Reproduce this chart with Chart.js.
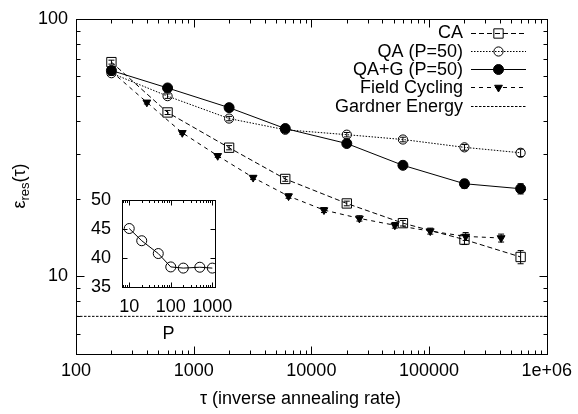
<!DOCTYPE html>
<html>
<head>
<meta charset="utf-8">
<title>Residual energy vs annealing time</title>
<script src="https://cdn.jsdelivr.net/npm/chart.js@4.4.1/dist/chart.umd.min.js"></script>
<style>
  html, body { margin: 0; padding: 0; background: #fff; }
  #wrap { position: relative; width: 578px; height: 414px; }
  #wrap canvas { position: absolute; left: 0; top: 0; }
  #insetChart { pointer-events: none; }
</style>
</head>
<body>
<div id="wrap">
  <canvas id="mainChart" width="578" height="414"></canvas>
  <canvas id="insetChart" width="578" height="414"></canvas>
</div>
<script>
// Main plot data
const tauCA = [200, 600, 2000, 6000, 20000, 60000, 200000, 600000];
const epsCA = [67.9, 43.3, 31.6, 23.9, 19.2, 16.1, 13.9, 11.9];
const errCA = [1.2, 0.8, 0.6, 0.5, 0.4, 0.4, 0.6, 0.7];

const tauQA = [200, 600, 2000, 6000, 20000, 60000, 200000, 600000];
const epsQA = [61.5, 50.1, 41.0, 37.1, 35.5, 34.0, 31.7, 30.2];
const errQA = [1.2, 1.0, 0.8, 0.8, 0.7, 0.7, 0.8, 1.0];

const tauQAG = [200, 600, 2000, 6000, 20000, 60000, 200000, 600000];
const epsQAG = [63.0, 53.9, 45.2, 37.5, 32.8, 27.0, 22.9, 21.9];
const errQAG = [1.0, 0.8, 0.7, 1.2, 0.9, 0.5, 0.9, 1.0];

const tauFC = [200, 400, 800, 1600, 3200, 6400, 12800, 25600, 51200, 102400, 204800, 409600];
const epsFC = [62.5, 47.4, 36.1, 29.4, 24.2, 20.5, 18.1, 16.8, 15.8, 15.0, 14.3, 14.1];
const errFC = [0.8, 0.7, 0.5, 0.4, 0.4, 0.4, 0.4, 0.4, 0.4, 0.4, 0.5, 0.5];

const gardnerEnergy = 7.0;

const xTickValues = [100, 1000, 10000, 100000, 1000000];
const yTickValues = [10, 100];

// Inset data
const pInset = [10, 20, 50, 100, 200, 500, 1000];
const epsInset = [45.1, 43.0, 40.8, 38.5, 38.3, 38.45, 38.3];
const insetXTicks = [10, 100, 1000];
const insetYTicks = [35, 40, 45, 50];

const xTitle = 'τ (inverse annealing rate)';
const insetTitle = 'P';

const FONT = '"Liberation Sans", Arial, Helvetica, sans-serif';

function pairs(xs, ys) {
    return xs.map((x, i) => ({ x: x, y: ys[i] }));
}

function fmtTick(v) {
    if (v >= 1000000) return '1e+06';
    return String(v);
}

// minor tick positions for a log axis: 2..9 x 10^n inside [lo, hi]
function logMinors(lo, hi) {
    const out = [];
    for (let d = Math.floor(Math.log10(lo)); d <= Math.ceil(Math.log10(hi)); d++) {
        for (let m = 2; m <= 9; m++) {
            const v = m * Math.pow(10, d);
            if (v > lo && v < hi) out.push(v);
        }
    }
    return out;
}

// gnuplot-like inward tick marks on all four sides + frame
const inwardTicks = {
    id: 'inwardTicks',
    afterDraw(chart, args, o) {
        const ctx = chart.ctx;
        const a = chart.chartArea;
        const xs = chart.scales.x, ys = chart.scales.y;
        ctx.save();
        ctx.strokeStyle = '#000';
        ctx.lineWidth = 1;
        ctx.setLineDash([]);
        ctx.beginPath();
        const l = Math.round(a.left) + 0.5, r = Math.round(a.right) + 0.5;
        const t = Math.round(a.top) + 0.5, b = Math.round(a.bottom) + 0.5;
        const xMark = (vals, len) => vals.forEach(v => {
            const px = Math.round(xs.getPixelForValue(v)) + 0.5;
            ctx.moveTo(px, b); ctx.lineTo(px, b - len);
            ctx.moveTo(px, t); ctx.lineTo(px, t + len);
        });
        const yMark = (vals, len) => vals.forEach(v => {
            const py = Math.round(ys.getPixelForValue(v)) + 0.5;
            ctx.moveTo(l, py); ctx.lineTo(l + len, py);
            ctx.moveTo(r, py); ctx.lineTo(r - len, py);
        });
        xMark(o.xMajor || [], o.major);
        xMark(o.xMinor || [], o.minor);
        yMark(o.yMajor || [], o.major);
        yMark(o.yMinor || [], o.minor);
        ctx.stroke();
        ctx.strokeRect(l, t, r - l, b - t);
        ctx.restore();
    }
};

// vertical error bars with small caps
const errorBars = {
    id: 'errorBars',
    afterDatasetsDraw(chart) {
        const ctx = chart.ctx;
        const ys = chart.scales.y;
        chart.data.datasets.forEach((ds, i) => {
            if (!ds.errors) return;
            const meta = chart.getDatasetMeta(i);
            ctx.save();
            ctx.strokeStyle = '#000';
            ctx.lineWidth = 1;
            ctx.setLineDash([]);
            ctx.beginPath();
            meta.data.forEach((pt, j) => {
                const v = ds.data[j].y, e = ds.errors[j];
                const top = ys.getPixelForValue(v + e), bot = ys.getPixelForValue(v - e);
                ctx.moveTo(pt.x, top); ctx.lineTo(pt.x, bot);
                ctx.moveTo(pt.x - 3, top); ctx.lineTo(pt.x + 3, top);
                ctx.moveTo(pt.x - 3, bot); ctx.lineTo(pt.x + 3, bot);
            });
            ctx.stroke();
            ctx.restore();
        });
    }
};

function drawMarker(ctx, ds, x, y) {
    const r = ds.pointRadius;
    ctx.save();
    ctx.setLineDash([]);
    ctx.lineWidth = 1;
    ctx.strokeStyle = '#000';
    ctx.fillStyle = ds.pointBackgroundColor;
    ctx.beginPath();
    if (ds.pointStyle === 'rect') {
        const s = r * Math.SQRT1_2;
        ctx.rect(x - s, y - s, 2 * s, 2 * s);
    } else if (ds.pointStyle === 'triangle') {
        // pointing down
        ctx.moveTo(x, y + r);
        ctx.lineTo(x - r * Math.sqrt(3) / 2, y - r / 2);
        ctx.lineTo(x + r * Math.sqrt(3) / 2, y - r / 2);
        ctx.closePath();
    } else {
        ctx.arc(x, y, r, 0, Math.PI * 2);
    }
    ctx.fill();
    ctx.stroke();
    ctx.restore();
}

// gnuplot-style key (text right aligned, sample on its right) + axis titles
const keyAndTitles = {
    id: 'keyAndTitles',
    afterDraw(chart) {
        const ctx = chart.ctx;
        ctx.save();
        ctx.fillStyle = '#000';
        ctx.font = '18px ' + FONT;
        ctx.textAlign = 'right';
        ctx.textBaseline = 'middle';
        chart.data.datasets.forEach((ds, i) => {
            const y = 32.5 + i * 18.3;
            ctx.fillText(ds.label, 463, y + 1);
            ctx.save();
            ctx.strokeStyle = '#000';
            ctx.lineWidth = 1;
            ctx.setLineDash(ds.borderDash || []);
            ctx.beginPath();
            ctx.moveTo(471, Math.round(y) + 0.5);
            ctx.lineTo(526, Math.round(y) + 0.5);
            ctx.stroke();
            ctx.restore();
            if (ds.pointRadius > 0) drawMarker(ctx, ds, 498.5, Math.round(y) + 0.5);
        });

        // x title
        ctx.textAlign = 'center';
        ctx.fillText(xTitle, 300.5, 399);

        // y title: eps_res(tau), rotated
        ctx.translate(19, 186);
        ctx.rotate(-Math.PI / 2);
        ctx.textAlign = 'left';
        ctx.textBaseline = 'alphabetic';
        ctx.font = '18px ' + FONT;
        const w1 = ctx.measureText('ε').width;
        const w3 = ctx.measureText('(τ)').width;
        ctx.font = '13px ' + FONT;
        const w2 = ctx.measureText('res').width;
        let x = -(w1 + w2 + w3) / 2;
        ctx.font = '18px ' + FONT;
        ctx.fillText('ε', x, 6);
        x += w1;
        ctx.font = '13px ' + FONT;
        ctx.fillText('res', x, 10);
        x += w2;
        ctx.font = '18px ' + FONT;
        ctx.fillText('(τ)', x, 6);
        ctx.restore();
    }
};

const tickFont = { family: FONT, size: 18 };

new Chart(document.getElementById('mainChart'), {
    type: 'line',
    data: {
        datasets: [
            {
                label: 'CA', data: pairs(tauCA, epsCA), errors: errCA,
                borderColor: '#000', borderWidth: 1, borderDash: [5, 3],
                pointStyle: 'rect', pointRadius: 6.6, pointBorderWidth: 1,
                pointBorderColor: '#000', pointBackgroundColor: 'rgba(0,0,0,0)'
            },
            {
                label: 'QA (P=50)', data: pairs(tauQA, epsQA), errors: errQA,
                borderColor: '#000', borderWidth: 1, borderDash: [1.5, 1.5],
                pointStyle: 'circle', pointRadius: 4.6, pointBorderWidth: 1,
                pointBorderColor: '#000', pointBackgroundColor: 'rgba(0,0,0,0)'
            },
            {
                label: 'QA+G (P=50)', data: pairs(tauQAG, epsQAG), errors: errQAG,
                borderColor: '#000', borderWidth: 1,
                pointStyle: 'circle', pointRadius: 5, pointBorderWidth: 1,
                pointBorderColor: '#000', pointBackgroundColor: '#000'
            },
            {
                label: 'Field Cycling', data: pairs(tauFC, epsFC), errors: errFC,
                borderColor: '#000', borderWidth: 1, borderDash: [4, 4],
                pointStyle: 'triangle', rotation: 180, pointRadius: 4.5, pointBorderWidth: 1,
                pointBorderColor: '#000', pointBackgroundColor: '#000'
            },
            {
                label: 'Gardner Energy',
                data: [{ x: 100, y: gardnerEnergy }, { x: 1000000, y: gardnerEnergy }],
                borderColor: '#000', borderWidth: 1, borderDash: [2.5, 1.5],
                pointRadius: 0
            }
        ]
    },
    options: {
        responsive: false,
        animation: false,
        events: [],
        layout: { padding: { left: 0, top: 14, right: 30, bottom: 0 } },
        plugins: {
            legend: { display: false },
            tooltip: { enabled: false },
            inwardTicks: {
                xMajor: xTickValues, xMinor: logMinors(100, 1000000),
                yMajor: yTickValues, yMinor: logMinors(5, 100).concat([5]),
                major: 8, minor: 4
            }
        },
        scales: {
            x: {
                type: 'logarithmic', min: 100, max: 1000000,
                afterBuildTicks: s => { s.ticks = xTickValues.map(v => ({ value: v })); },
                afterFit: s => { s.height = 60; },
                grid: { display: false, drawTicks: false },
                border: { display: false },
                ticks: { color: '#000', font: tickFont, padding: 6, maxRotation: 0, autoSkip: false, callback: v => fmtTick(v) }
            },
            y: {
                type: 'logarithmic', min: 5, max: 100,
                afterBuildTicks: s => { s.ticks = yTickValues.map(v => ({ value: v })); },
                afterFit: s => { s.width = 76; },
                grid: { display: false, drawTicks: false },
                border: { display: false },
                ticks: { color: '#000', font: tickFont, padding: 8, autoSkip: false, callback: v => String(v) }
            }
        }
    },
    plugins: [errorBars, inwardTicks, keyAndTitles]
});

// Inset: residual energy vs P
new Chart(document.getElementById('insetChart'), {
    type: 'line',
    data: {
        datasets: [{
            label: 'inset', data: pairs(pInset, epsInset),
            borderColor: '#000', borderWidth: 1,
            pointStyle: 'circle', pointRadius: 5, pointBorderWidth: 1,
            pointBorderColor: '#000', pointBackgroundColor: 'rgba(0,0,0,0)'
        }]
    },
    options: {
        responsive: false,
        animation: false,
        events: [],
        layout: { padding: { left: 82, top: 200, right: 363, bottom: 66.7 } },
        plugins: {
            legend: { display: false },
            tooltip: { enabled: false },
            inwardTicks: {
                xMajor: insetXTicks, xMinor: logMinors(6.7, 1160),
                yMajor: insetYTicks, yMinor: [],
                major: 5, minor: 2.5
            }
        },
        scales: {
            x: {
                type: 'logarithmic', min: 6.7, max: 1160,
                afterBuildTicks: s => { s.ticks = insetXTicks.map(v => ({ value: v })); },
                afterFit: s => { s.height = 60; },
                grid: { display: false, drawTicks: false },
                border: { display: false },
                ticks: { color: '#000', font: tickFont, padding: 9, maxRotation: 0, autoSkip: false, callback: v => String(v) },
                title: { display: true, text: insetTitle, color: '#000', font: tickFont, padding: { top: 0, bottom: 2.5 } }
            },
            y: {
                type: 'linear', min: 35, max: 50,
                afterBuildTicks: s => { s.ticks = insetYTicks.map(v => ({ value: v })); },
                afterFit: s => { s.width = 40; },
                grid: { display: false, drawTicks: false },
                border: { display: false },
                ticks: { color: '#000', font: tickFont, padding: 11, autoSkip: false }
            }
        }
    },
    plugins: [inwardTicks]
});
</script>
</body>
</html>
